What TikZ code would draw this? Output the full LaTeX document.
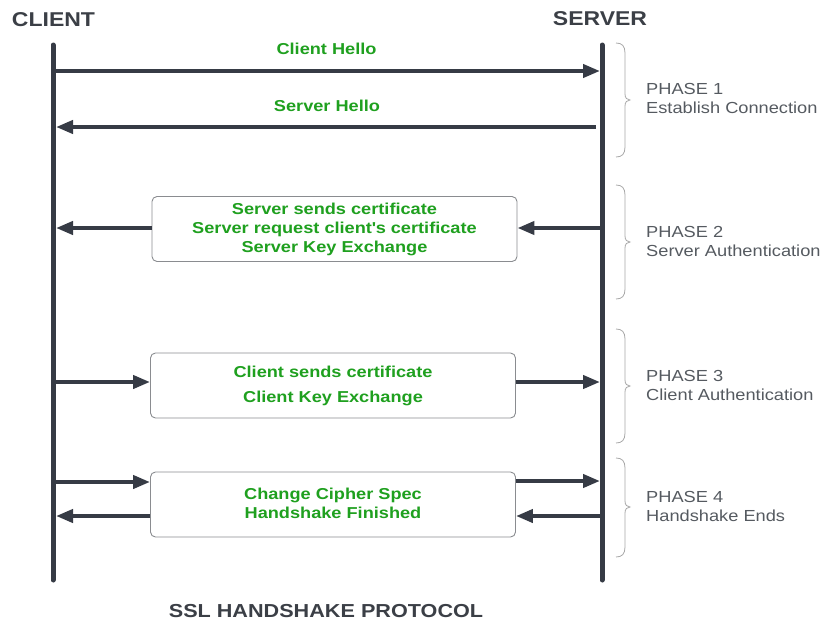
\documentclass[tikz,border=0pt]{standalone}
\usepackage{fontspec}
\setmainfont{Liberation Sans}[FakeStretch=1.15]
\newfontfamily\phasefont{Liberation Sans}[FakeStretch=1.14]
\usetikzlibrary{arrows.meta}
\definecolor{linedark}{HTML}{363B45}
\definecolor{msggreen}{HTML}{1FA01F}
\definecolor{phasegray}{HTML}{555A60}
\definecolor{titlegray}{HTML}{3B3F46}
\definecolor{boxgray}{HTML}{8A8C90}
\definecolor{bracegray}{HTML}{A8A8A8}
\begin{document}
\begin{tikzpicture}[x=1pt,y=-1pt,
  lifeline/.style={line width=5pt,line cap=round,draw=linedark},
  msg/.style={line width=4pt,draw=linedark,-{Triangle[length=17pt,width=13pt,fill=linedark]}},
  msgtext/.style={anchor=base,inner sep=0pt,text=msggreen,font=\bfseries\fontsize{15.8}{19}\selectfont},
  msgbox/.style={draw=boxgray,line width=0.9pt,rounded corners=5pt,fill=white,minimum width=365pt,minimum height=65pt,inner sep=0pt,align=center,text=msggreen,font=\bfseries\fontsize{15.8}{19}\selectfont},
  party/.style={anchor=base,inner sep=0pt,text=titlegray,font=\bfseries\fontsize{20}{24}\selectfont},
  phase/.style={anchor=base west,inner sep=0pt,text=phasegray,align=left,font=\phasefont\fontsize{16}{19}\selectfont},
  phbrace/.style={draw=bracegray,line width=0.8pt}]
\useasboundingbox (0,0) rectangle (821,621);

% headings
\node[party] (client) at (53.5,26) {CLIENT};
\node[party] (server) at (600,25) {SERVER};
\node[anchor=base,inner sep=0pt,text=titlegray,font=\bfseries\fontsize{18.8}{22}\selectfont] (title) at (326,617) {SSL HANDSHAKE PROTOCOL};

% lifelines
\coordinate (ctop) at (53,45);
\coordinate (cbot) at (53,580);
\coordinate (stop) at (602,45);
\coordinate (sbot) at (602,580);
\draw[lifeline] (ctop) -- (cbot);
\draw[lifeline] (stop) -- (sbot);

% phase 1
\coordinate (c71) at (53,71);
\coordinate (s71) at (600,71);
\coordinate (c127) at (56,127);
\coordinate (s127) at (596,127);
\draw[msg] (c71) -- (s71);
\draw[msg] (s127) -- (c127);
\node[msgtext] (chello) at (326.5,54) {Client Hello};
\node[msgtext] (shello) at (327,111) {Server Hello};

% phase 2
\node[msgbox] (b2) at (334.5,229) {Server sends certificate\\Server request client\textquotesingle s certificate\\Server Key Exchange};
\coordinate (s228) at (602,228);
\coordinate (c228) at (56,228);
\draw[msg] (s228) -- (s228 -| b2.east);
\draw[msg] (c228 -| b2.west) -- (c228);

% phase 3
\node[msgbox] (b3) at (333,385.5) {Client sends certificate\\[6pt]Client Key Exchange};
\coordinate (c382) at (53,382);
\coordinate (s382) at (600,382);
\draw[msg] (c382) -- (c382 -| b3.west);
\draw[msg] (s382 -| b3.east) -- (s382);

% phase 4
\node[msgbox] (b4) at (333,504.5) {Change Cipher Spec\\Handshake Finished\vphantom{g}};
\coordinate (c482) at (53,482);
\coordinate (s481) at (600,481);
\coordinate (c516) at (56,516);
\coordinate (s516) at (602,516);
\draw[msg] (c482) -- (c482 -| b4.west);
\draw[msg] (s481 -| b4.east) -- (s481);
\draw[msg] (c516 -| b4.west) -- (c516);
\draw[msg] (s516) -- (s516 -| b4.east);

% braces
\foreach \T/\M/\B in {43/100/157,185/242/299,329/386/443,458/507/557}{
  \draw[phbrace] (616,\T) .. controls (622,\T) and (625,\T+3) .. (625,\T+10)
     -- (625,\M-6) .. controls (625,\M-2) and (627,\M) .. (630,\M)
     .. controls (627,\M) and (625,\M+2) .. (625,\M+6)
     -- (625,\B-10) .. controls (625,\B-3) and (622,\B) .. (616,\B);
}

% phase labels
\node[phase] (p1) at (646,113) {PHASE 1\\Establish Connection};
\node[phase] (p2) at (646,256) {PHASE 2\\Server Authentication};
\node[phase] (p3) at (646,400) {PHASE 3\\Client Authentication};
\node[phase] (p4) at (646,521) {PHASE 4\\Handshake Ends};
\end{tikzpicture}
\end{document}
